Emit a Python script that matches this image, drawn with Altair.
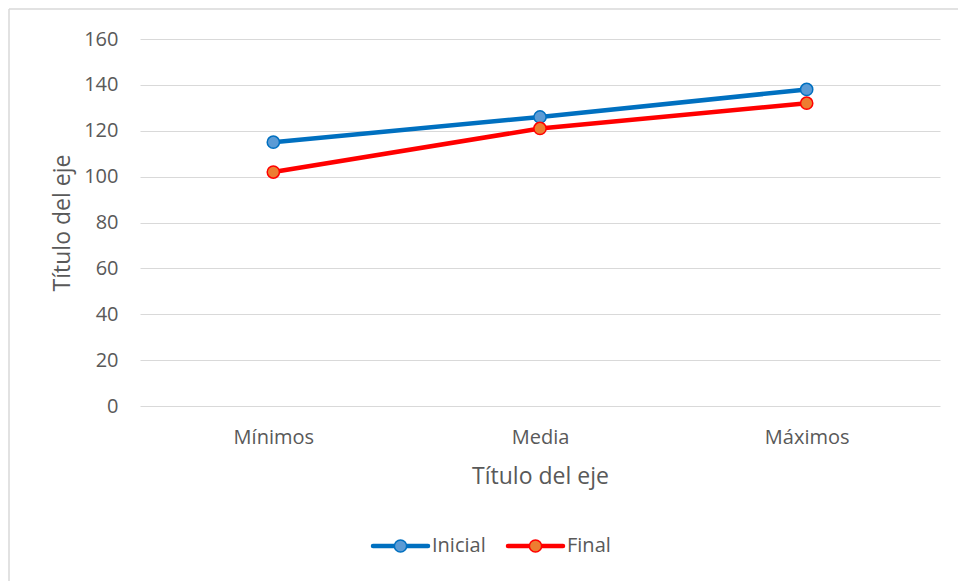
import altair as alt
import pandas as pd

# Chart values
categorias = ["Mínimos", "Media", "Máximos"]
series = ["Inicial", "Final"]
inicial = [115, 126, 138]
final = [102, 121, 132]

# Styles per series: line colour, marker fill, marker outline
estilos = {
    "Inicial": {"linea": "#0070C0", "relleno": "#5B9BD5", "borde": "#0070C0"},
    "Final": {"linea": "#FF0000", "relleno": "#ED7D31", "borde": "#FF0000"},
}

datos = pd.DataFrame({
    "categoria": categorias * 2,
    "serie": [series[0]] * 3 + [series[1]] * 3,
    "valor": inicial + final,
})

FUENTE = "Open Sans"
GRIS = "#595959"
W, H = 800, 367

x_enc = alt.X(
    "categoria:N",
    sort=categorias,
    scale=alt.Scale(type="point", padding=0.5),
    axis=alt.Axis(
        title="Título del eje",
        labelAngle=0,
        labelBaseline="middle",
        labelPadding=31,
        ticks=False,
        domain=False,
        grid=False,
        titleX=W / 2,
        titleY=70,
        titleBaseline="middle",
    ),
)
y_enc = alt.Y(
    "valor:Q",
    scale=alt.Scale(domain=[0, 160], nice=False),
    axis=alt.Axis(
        title="Título del eje",
        values=list(range(0, 161, 20)),
        ticks=False,
        domain=False,
        grid=True,
        gridColor="#D9D9D9",
        gridWidth=1,
        labelPadding=22,
        titleX=-78,
        titleY=H / 2,
        titleAngle=270,
        titleBaseline="middle",
    ),
)

capas = []
for nombre in series:
    e = estilos[nombre]
    sub = datos[datos["serie"] == nombre]
    base = alt.Chart(sub).encode(x=x_enc, y=y_enc)
    capas.append(base.mark_line(color=e["linea"], strokeWidth=4.5))
    capas.append(base.mark_point(
        shape="circle", filled=True, size=150,
        fill=e["relleno"], stroke=e["borde"], strokeWidth=1.5, opacity=1,
    ))

# Legend drawn below the plot
vacio = alt.Data(values=[{}])
ley_y = 507
for i, nombre in enumerate(series):
    e = estilos[nombre]
    x0 = 233 + i * 135
    capas.append(alt.Chart(vacio).mark_rule(color=e["linea"], strokeWidth=4.5, strokeCap="round").encode(
        x=alt.value(x0), x2=alt.value(x0 + 55), y=alt.value(ley_y)))
    capas.append(alt.Chart(vacio).mark_point(
        shape="circle", filled=True, size=150, fill=e["relleno"], stroke=e["borde"],
        strokeWidth=1.5, opacity=1).encode(x=alt.value(x0 + 27.5), y=alt.value(ley_y)))
    capas.append(alt.Chart(vacio).mark_text(
        text=nombre, align="left", baseline="middle", font=FUENTE, fontSize=20, color=GRIS).encode(
        x=alt.value(x0 + 59), y=alt.value(ley_y)))

# Outer frame of the chart area (top and left edges)
capas.append(alt.Chart(vacio).mark_rule(color="#D9D9D9", strokeWidth=1.5).encode(
    x=alt.value(-131), x2=alt.value(830), y=alt.value(-30)))
capas.append(alt.Chart(vacio).mark_rule(color="#D9D9D9", strokeWidth=1.5).encode(
    x=alt.value(-131), y=alt.value(-30), y2=alt.value(560)))

chart = alt.layer(*capas).properties(
    width=W,
    height=H,
    autosize=alt.AutoSizeParams(type="none"),
    padding={"left": 140, "top": 39, "right": 18, "bottom": 175},
    background="white",
).configure_view(
    stroke=None,
).configure_axis(
    labelFont=FUENTE,
    labelFontSize=20,
    labelColor=GRIS,
    titleFont=FUENTE,
    titleFontSize=23,
    titleFontWeight="normal",
    titleColor=GRIS,
)

chart.save("out.html", embed_options={"renderer": "svg", "actions": False})
